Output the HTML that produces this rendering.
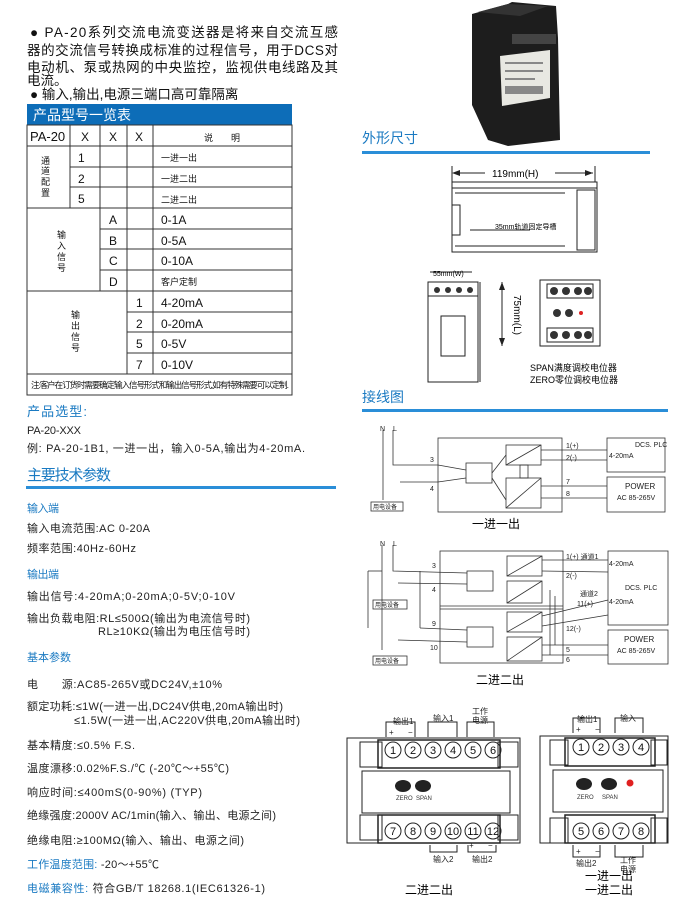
<!DOCTYPE html>
<html><head><meta charset="utf-8">
<style>
html,body{margin:0;padding:0;background:#fff;}
svg{display:block;font-family:"Liberation Sans","Noto Sans CJK SC",sans-serif;}
.b{fill:#1a7ac2}
</style></head><body>
<svg width="693" height="916" viewBox="0 0 693 916" xmlns="http://www.w3.org/2000/svg">
<g font-size="13.5" fill="#111">
<text x="30" y="37" textLength="308">●   PA-20系列交流电流变送器是将来自交流互感</text>
<text x="27" y="55" textLength="311">器的交流信号转换成标准的过程信号，用于DCS对</text>
<text x="27" y="72" textLength="311">电动机、泵或热网的中央监控，监视供电线路及其</text>
<text x="27" y="85">电流。</text>
<text x="30" y="99">● 输入,输出,电源三端口高可靠隔离</text>
</g>
<rect x="27" y="104" width="265" height="21" fill="#0d6db8"/>
<text x="33" y="120" font-size="14" fill="#fff">产品型号一览表</text>
<g stroke="#333" stroke-width="1" fill="none">
<rect x="27" y="125" width="265" height="270"/>
<line x1="27" y1="146" x2="292" y2="146"/>
<line x1="70" y1="167" x2="292" y2="167"/>
<line x1="70" y1="187" x2="292" y2="187"/>
<line x1="27" y1="208" x2="292" y2="208"/>
<line x1="100" y1="229" x2="292" y2="229"/>
<line x1="100" y1="249" x2="292" y2="249"/>
<line x1="100" y1="270" x2="292" y2="270"/>
<line x1="27" y1="291" x2="292" y2="291"/>
<line x1="127" y1="312" x2="292" y2="312"/>
<line x1="127" y1="332" x2="292" y2="332"/>
<line x1="127" y1="353" x2="292" y2="353"/>
<line x1="27" y1="374" x2="292" y2="374"/>
<line x1="70" y1="125" x2="70" y2="208"/>
<line x1="100" y1="125" x2="100" y2="291"/>
<line x1="127" y1="125" x2="127" y2="374"/>
<line x1="153" y1="125" x2="153" y2="374"/>
</g>
<g font-size="12" fill="#111">
<text x="30" y="141" font-size="13">PA-20</text>
<text x="81" y="141">X</text><text x="109" y="141">X</text><text x="135" y="141">X</text>
<text x="204" y="141" font-size="9">说　　明</text>
<text x="78" y="162">1</text><text x="78" y="183">2</text><text x="78" y="203">5</text>
<text x="109" y="224">A</text><text x="109" y="245">B</text><text x="109" y="265">C</text><text x="109" y="286">D</text>
<text x="136" y="307">1</text><text x="136" y="328">2</text><text x="136" y="348">5</text><text x="136" y="369">7</text>
<g font-size="9"><text x="161" y="161">一进一出</text><text x="161" y="182">一进二出</text><text x="161" y="203">二进二出</text><text x="161" y="285">客户定制</text></g>
<text x="161" y="224">0-1A</text><text x="161" y="245">0-5A</text><text x="161" y="265">0-10A</text>
<text x="161" y="307">4-20mA</text><text x="161" y="328">0-20mA</text><text x="161" y="348">0-5V</text><text x="161" y="369">0-10V</text>
<g font-size="9"><text x="41" y="164">通</text><text x="41" y="174">道</text><text x="41" y="185">配</text><text x="41" y="196">置</text>
<text x="57" y="238">输</text><text x="57" y="249">入</text><text x="57" y="260">信</text><text x="57" y="271">号</text>
<text x="71" y="318">输</text><text x="71" y="329">出</text><text x="71" y="340">信</text><text x="71" y="351">号</text>
<text x="31" y="388" font-size="8.5" textLength="258">注:客户在订货时需要确定输入信号形式和输出信号形式,如有特殊需要可以定制.</text></g>
</g>
<text x="27" y="416" font-size="13" class="b" textLength="60">产品选型:</text>
<g font-size="11" fill="#222">
<text x="27" y="434" textLength="54">PA-20-XXX</text>
<text x="27" y="452" textLength="278">例:    PA-20-1B1, 一进一出，输入0-5A,输出为4-20mA.</text>
</g>
<text x="27" y="480" font-size="15" class="b" textLength="84">主要技术参数</text>
<rect x="26" y="486" width="310" height="3" fill="#2a8ed8"/>
<g font-size="11" fill="#222">
<text x="27" y="512" class="b" textLength="32">输入端</text>
<text x="27" y="532" textLength="123">输入电流范围:AC 0-20A</text>
<text x="27" y="552" textLength="109">频率范围:40Hz-60Hz</text>
<text x="27" y="578" class="b" textLength="32">输出端</text>
<text x="27" y="600" textLength="208">输出信号:4-20mA;0-20mA;0-5V;0-10V</text>
<text x="27" y="622" textLength="223">输出负载电阻:RL≤500Ω(输出为电流信号时)</text>
<text x="98" y="635" textLength="152">RL≥10KΩ(输出为电压信号时)</text>
<text x="27" y="661" class="b" textLength="44">基本参数</text>
<text x="27" y="688" textLength="195">电　　源:AC85-265V或DC24V,±10%</text>
<text x="27" y="710" textLength="256">额定功耗:≤1W(一进一出,DC24V供电,20mA输出时)</text>
<text x="74" y="724" textLength="226">≤1.5W(一进一出,AC220V供电,20mA输出时)</text>
<text x="27" y="749" textLength="108">基本精度:≤0.5% F.S.</text>
<text x="27" y="772" textLength="202">温度漂移:0.02%F.S./℃ (-20℃～+55℃)</text>
<text x="27" y="796" textLength="175">响应时间:≤400mS(0-90%) (TYP)</text>
<text x="27" y="819" textLength="249">绝缘强度:2000V AC/1min(输入、输出、电源之间)</text>
<text x="27" y="844" textLength="217">绝缘电阻:≥100MΩ(输入、输出、电源之间)</text>
<text x="27" y="868" textLength="132"><tspan class="b">工作温度范围:</tspan> -20～+55℃</text>
<text x="27" y="892" textLength="238"><tspan class="b">电磁兼容性:</tspan>  符合GB/T 18268.1(IEC61326-1)</text>
</g>
<polygon points="472,14 508,4 512,2 556,6 558,38 560,140 508,146 488,140 472,105" fill="#1d1d1d"/>
<polygon points="478,12 508,4 548,6 520,16" fill="#333"/>
<rect x="512" y="34" width="44" height="10" fill="#444"/>
<polygon points="500,56 550,50 550,98 502,106" fill="#e8e8e2"/>
<g fill="#888"><rect x="505" y="62" width="38" height="2"/><rect x="505" y="70" width="38" height="2"/><rect x="505" y="78" width="30" height="2"/><rect x="505" y="86" width="38" height="8"/></g>
<text x="362" y="143" font-size="14" class="b">外形尺寸</text>
<rect x="362" y="151" width="288" height="3" fill="#2a8ed8"/>
<g stroke="#222" fill="none" stroke-width="1">
<line x1="452" y1="166" x2="452" y2="182"/><line x1="595" y1="166" x2="595" y2="182"/>
<line x1="454" y1="173" x2="485" y2="173"/><line x1="555" y1="173" x2="593" y2="173"/>
<rect x="452" y="182" width="145" height="70"/>
<line x1="452" y1="188" x2="597" y2="188"/><line x1="455" y1="193" x2="565" y2="193"/>
<line x1="455" y1="246" x2="565" y2="246"/>
<rect x="577" y="190" width="18" height="60"/>
<polyline points="452,205 460,205 460,235 452,235"/>
<line x1="470" y1="230" x2="530" y2="230"/>
<rect x="428" y="282" width="50" height="100"/><rect x="428" y="282" width="50" height="14"/>
<rect x="441" y="316" width="24" height="40"/>
<line x1="430" y1="272" x2="472" y2="272"/>
<line x1="480" y1="282" x2="480" y2="382"/>
<line x1="502" y1="282" x2="502" y2="346"/>
<rect x="540" y="280" width="60" height="66"/>
<rect x="547" y="284" width="46" height="14"/><rect x="547" y="328" width="46" height="14"/>
</g>
<polygon points="452,173 460,170 460,176" fill="#222"/><polygon points="593,173 585,170 585,176" fill="#222"/>
<polygon points="502,282 499,290 505,290" fill="#222"/><polygon points="502,346 499,338 505,338" fill="#222"/>
<text x="492" y="177" font-size="10">119mm(H)</text>
<text x="495" y="229" font-size="7">35mm轨道固定导槽</text>
<text x="433" y="276" font-size="7">55mm(W)</text>
<text x="514" y="295" font-size="10" transform="rotate(90 514 295)">75mm(L)</text>
<g fill="#333"><circle cx="437" cy="290" r="3"/><circle cx="448" cy="290" r="3"/><circle cx="459" cy="290" r="3"/><circle cx="470" cy="290" r="3"/>
<circle cx="554" cy="291" r="4"/><circle cx="566" cy="291" r="4"/><circle cx="578" cy="291" r="4"/><circle cx="588" cy="291" r="4"/>
<circle cx="554" cy="335" r="4"/><circle cx="566" cy="335" r="4"/><circle cx="578" cy="335" r="4"/><circle cx="588" cy="335" r="4"/>
<circle cx="557" cy="313" r="4"/><circle cx="569" cy="313" r="4"/></g>
<circle cx="581" cy="313" r="2" fill="#d22"/>
<text x="530" y="371" font-size="9">SPAN满度调校电位器</text>
<text x="530" y="383" font-size="9">ZERO零位调校电位器</text>
<text x="362" y="402" font-size="14" class="b">接线图</text>
<rect x="362" y="409" width="306" height="3" fill="#2a8ed8"/>
<g stroke="#333" fill="none" stroke-width="0.8">
<rect x="438" y="438" width="124" height="74"/>
<rect x="607" y="438" width="58" height="34"/><rect x="607" y="477" width="58" height="35"/>
<rect x="466" y="463" width="26" height="20"/>
<rect x="506" y="445" width="35" height="20"/><rect x="506" y="478" width="35" height="30"/>
<line x1="506" y1="465" x2="541" y2="445"/><line x1="506" y1="508" x2="541" y2="478"/>
<polyline points="383,430 383,500"/><polyline points="393,430 393,465 438,465"/>
<line x1="400" y1="482" x2="438" y2="482"/>
<line x1="438" y1="465" x2="466" y2="470"/><line x1="438" y1="482" x2="466" y2="478"/>
<rect x="371" y="502" width="32" height="9"/>
<line x1="541" y1="450" x2="607" y2="450"/><line x1="541" y1="460" x2="607" y2="460"/>
<line x1="541" y1="486" x2="607" y2="486"/><line x1="541" y1="498" x2="607" y2="498"/>
<line x1="492" y1="473" x2="506" y2="455"/><line x1="492" y1="478" x2="506" y2="500"/>
<rect x="520" y="465" width="8" height="13"/>
<rect x="440" y="551" width="123" height="112"/>
<line x1="440" y1="606" x2="563" y2="606"/><line x1="440" y1="609" x2="563" y2="609"/>
<rect x="608" y="551" width="60" height="74"/><rect x="608" y="630" width="60" height="34"/>
<rect x="467" y="571" width="26" height="20"/><rect x="467" y="627" width="26" height="20"/>
<rect x="507" y="556" width="35" height="20"/><rect x="507" y="581" width="35" height="22"/>
<rect x="507" y="612" width="35" height="20"/><rect x="507" y="637" width="35" height="24"/>
<line x1="507" y1="576" x2="542" y2="556"/><line x1="507" y1="603" x2="542" y2="581"/>
<line x1="507" y1="632" x2="542" y2="612"/><line x1="507" y1="661" x2="542" y2="637"/>
<polyline points="382,545 382,650"/><polyline points="393,545 393,571 467,573"/>
<line x1="368" y1="571" x2="382" y2="571"/><line x1="368" y1="571" x2="368" y2="628"/>
<line x1="420" y1="571" x2="420" y2="628" /><line x1="420" y1="628" x2="467" y2="630"/>
<line x1="398" y1="583" x2="467" y2="584"/><line x1="398" y1="640" x2="467" y2="642"/>
<rect x="373" y="600" width="34" height="9"/><rect x="373" y="656" width="34" height="9"/>
<line x1="542" y1="560" x2="608" y2="560"/><line x1="542" y1="571" x2="608" y2="572"/>
<line x1="542" y1="616" x2="608" y2="600"/><line x1="542" y1="626" x2="608" y2="615"/>
<line x1="542" y1="645" x2="608" y2="645"/><line x1="542" y1="655" x2="608" y2="655"/>
<line x1="550" y1="590" x2="550" y2="655"/><line x1="555" y1="596" x2="555" y2="645"/>
</g>
<g font-size="7" fill="#222">
<text x="380" y="431">N</text><text x="393" y="431">L</text>
<text x="430" y="462">3</text><text x="430" y="491">4</text>
<text x="566" y="448">1(+)</text><text x="566" y="460">2(-)</text><text x="566" y="484">7</text><text x="566" y="496">8</text>
<text x="635" y="447">DCS. PLC</text><text x="609" y="458">4-20mA</text>
<text x="625" y="489" font-size="8">POWER</text><text x="617" y="500">AC 85-265V</text>
<text x="373" y="509" font-size="6">用电设备</text>
<text x="380" y="546">N</text><text x="393" y="546">L</text>
<text x="432" y="568">3</text><text x="432" y="592">4</text><text x="432" y="626">9</text><text x="430" y="650">10</text>
<text x="566" y="559">1(+)  通道1</text><text x="566" y="578">2(-)</text>
<text x="580" y="596">通道2</text><text x="577" y="606">11(+)</text><text x="566" y="631">12(-)</text>
<text x="566" y="652">5</text><text x="566" y="662">6</text>
<text x="625" y="590">DCS. PLC</text><text x="609" y="566">4-20mA</text><text x="609" y="604">4-20mA</text>
<text x="624" y="642" font-size="8">POWER</text><text x="617" y="653">AC 85-265V</text>
<text x="375" y="607" font-size="6">用电设备</text><text x="375" y="663" font-size="6">用电设备</text>
</g>
<text x="472" y="528" font-size="12">一进一出</text>
<text x="476" y="684" font-size="12">二进二出</text>
<g stroke="#222" fill="none" stroke-width="1">
<rect x="347" y="738" width="173" height="105"/>
<rect x="360" y="742" width="22" height="25"/><rect x="360" y="815" width="22" height="25"/>
<rect x="498" y="742" width="20" height="25"/><rect x="498" y="815" width="20" height="25"/>
<rect x="378" y="740" width="122" height="28" stroke-width="1.5"/>
<rect x="378" y="815" width="122" height="28" stroke-width="1.5"/>
<rect x="362" y="771" width="148" height="42"/>
<rect x="540" y="736" width="128" height="107"/>
<rect x="550" y="740" width="18" height="25"/><rect x="550" y="818" width="18" height="25"/>
<rect x="651" y="740" width="16" height="25"/><rect x="651" y="818" width="16" height="25"/>
<rect x="565" y="738" width="90" height="28" stroke-width="1.5"/>
<rect x="565" y="815" width="90" height="28" stroke-width="1.5"/>
<rect x="553" y="770" width="110" height="42"/>
<polyline points="386,737 386,722 415,722 415,737"/><polyline points="428,737 428,722 457,722 457,737"/><polyline points="467,737 467,722 494,722 494,737"/>
<polyline points="430,845 430,852 457,852 457,845"/><polyline points="468,845 468,852 496,852 496,845"/>
<polyline points="573,733 573,718 600,718 600,733"/><polyline points="615,733 615,718 643,718 643,733"/>
<polyline points="573,845 573,857 600,857 600,845"/><polyline points="615,845 615,857 643,857 643,845"/>
</g>
<g font-size="11" fill="#111" text-anchor="middle">
<g stroke="#222" fill="none"><circle cx="393" cy="750" r="8"/><circle cx="413" cy="750" r="8"/><circle cx="433" cy="750" r="8"/><circle cx="453" cy="750" r="8"/><circle cx="473" cy="750" r="8"/><circle cx="493" cy="750" r="8"/>
<circle cx="393" cy="831" r="8"/><circle cx="413" cy="831" r="8"/><circle cx="433" cy="831" r="8"/><circle cx="453" cy="831" r="8"/><circle cx="473" cy="831" r="8"/><circle cx="493" cy="831" r="8"/>
<circle cx="581" cy="747" r="8"/><circle cx="601" cy="747" r="8"/><circle cx="621" cy="747" r="8"/><circle cx="641" cy="747" r="8"/>
<circle cx="581" cy="831" r="8"/><circle cx="601" cy="831" r="8"/><circle cx="621" cy="831" r="8"/><circle cx="641" cy="831" r="8"/></g>
<text x="393" y="754">1</text><text x="413" y="754">2</text><text x="433" y="754">3</text><text x="453" y="754">4</text><text x="473" y="754">5</text><text x="493" y="754">6</text>
<text x="393" y="835">7</text><text x="413" y="835">8</text><text x="433" y="835">9</text><text x="453" y="835">10</text><text x="473" y="835">11</text><text x="493" y="835">12</text>
<text x="581" y="751">1</text><text x="601" y="751">2</text><text x="621" y="751">3</text><text x="641" y="751">4</text>
<text x="581" y="835">5</text><text x="601" y="835">6</text><text x="621" y="835">7</text><text x="641" y="835">8</text>
</g>
<g fill="#222"><ellipse cx="403" cy="786" rx="8" ry="6"/><ellipse cx="423" cy="786" rx="8" ry="6"/>
<ellipse cx="584" cy="784" rx="8" ry="6"/><ellipse cx="609" cy="784" rx="8" ry="6"/></g>
<circle cx="630" cy="783" r="3.5" fill="#e02020"/>
<g font-size="6" fill="#333"><text x="396" y="800">ZERO</text><text x="416" y="800">SPAN</text><text x="577" y="799">ZERO</text><text x="602" y="799">SPAN</text></g>
<g font-size="8" fill="#222">
<text x="393" y="724">输出1</text><text x="433" y="721">输入1</text><text x="472" y="714">工作</text><text x="472" y="723">电源</text>
<text x="389" y="735">+</text><text x="408" y="735">−</text>
<text x="433" y="862">输入2</text><text x="472" y="862">输出2</text><text x="469" y="848">+</text><text x="488" y="848">−</text>
<text x="577" y="722">输出1</text><text x="620" y="721">输入</text><text x="576" y="732">+</text><text x="595" y="732">−</text>
<text x="576" y="854">+</text><text x="595" y="854">−</text><text x="576" y="866">输出2</text><text x="620" y="863">工作</text><text x="620" y="872">电源</text>
</g>
<text x="405" y="894" font-size="12">二进二出</text>
<text x="585" y="880" font-size="12">一进一出</text>
<text x="585" y="894" font-size="12">一进二出</text>
</svg>
</body></html>
